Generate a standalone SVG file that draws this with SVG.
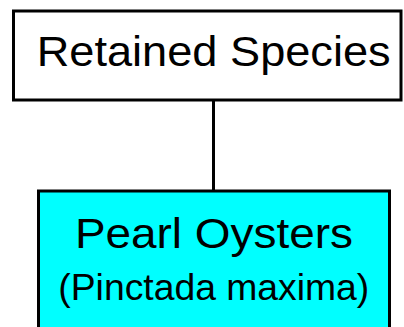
<svg xmlns="http://www.w3.org/2000/svg" width="404" height="327" viewBox="0 0 404 327">
  <style>
    .box { stroke: #000; stroke-width: 3; }
    .label { font-family: "Liberation Sans", Arial, sans-serif; fill: #000; text-anchor: middle; }
  </style>
  <rect width="404" height="327" fill="#fff"/>
  <g id="connectors">
    <line x1="213.5" y1="100" x2="213.5" y2="191" stroke="#000" stroke-width="3"/>
  </g>
  <g id="retained-species">
    <rect class="box" x="13.5" y="11" width="387.5" height="89" fill="#fff"/>
    <text class="label" x="213.7" y="66" font-size="42" textLength="354" lengthAdjust="spacingAndGlyphs">Retained Species</text>
  </g>
  <g id="pearl-oysters">
    <rect class="box" x="38.5" y="191" width="351" height="150" fill="#00ffff"/>
    <text class="label" x="213.9" y="248" font-size="42" textLength="278" lengthAdjust="spacingAndGlyphs">Pearl Oysters</text>
    <text class="label" x="213.8" y="300" font-size="36" textLength="311" lengthAdjust="spacingAndGlyphs">(Pinctada maxima)</text>
  </g>
</svg>
